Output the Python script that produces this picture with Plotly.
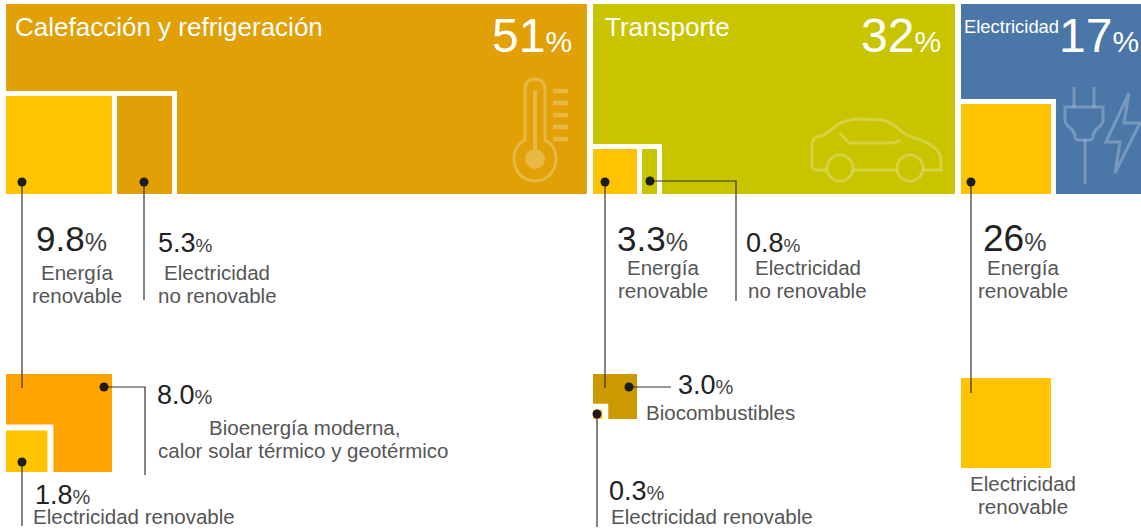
import plotly.graph_objects as go

# values
sector_names = ["Calefacción y refrigeración", "Transporte", "Electricidad"]
sector_values = [51, 32, 17]
split_values = [[9.8, 5.3], [3.3, 0.8], [26]]
renewable_values = [[8.0, 1.8], [3.0, 0.3], [26]]
label_renewable = ["Energía", "renovable"]
label_non_renewable = ["Electricidad", "no renovable"]
label_bio_heat = ["Bioenergía moderna,", "calor solar térmico y geotérmico"]
label_bio_fuel = "Biocombustibles"
label_green_power = "Electricidad renovable"

# layout, in page pixels
W, H = 1141, 529
FONT = "Liberation Sans"
BLOCK_TOP, BLOCK_BOTTOM = 4, 194
GAP = 5
sector_left = [6, 593, 961]
sector_px_per_pct = [11.39, 11.31, 11.35]
split_px_per_pct = [[10.82, 10.38], [13.33, 18.75], [3.46]]
split_height = [98, 45, 90]
lower_top = [374, 374, 378]

heat_c = "#e0a006"
transport_c = "#c9c400"
power_c = "#4a76a8"
yellow_c = "#ffc300"
orange_c = "#ffa300"
brown_c = "#cc9900"
sector_colors = [heat_c, transport_c, power_c]
lower_colors = [orange_c, brown_c, yellow_c]
text_c = "#222222"
pct_c = "#444444"
label_c = "#555555"
line_c = "#333333"
icon_c = "rgba(255,255,255,0.25)"
LABEL = 20.5

fig = go.Figure()


def add_block(left, top, width, height, color):
    fig.add_trace(
        go.Bar(
            x=[left + width / 2],
            y=[height],
            base=[top],
            width=[width],
            marker=dict(color=color, line_width=0),
        )
    )


def add_line(xs, ys, dot=True):
    fig.add_trace(
        go.Scatter(
            x=xs,
            y=ys,
            mode="lines",
            line=dict(color=line_c, width=1.2),
        )
    )
    if dot:
        fig.add_trace(
            go.Scatter(
                x=xs[:1],
                y=ys[:1],
                mode="markers",
                marker=dict(color="#1c1c1c", size=9),
            )
        )


def add_text(x, y, text, size, color=label_c, anchor="center"):
    # annotations carry about 2px of padding on each side
    if anchor == "left":
        x -= 2
    elif anchor == "right":
        x += 2
    fig.add_annotation(
        x=x,
        y=y,
        text=text,
        showarrow=False,
        xanchor=anchor,
        yanchor="middle",
        align=anchor,
        font=dict(family=FONT, size=size, color=color),
    )


def pct(value, pct_size, color=pct_c):
    return f'{value}<span style="font-size:{pct_size}px;color:{color}">%</span>'


# top row: sector blocks with the white framed share blocks inside
for i, value in enumerate(sector_values):
    add_block(
        sector_left[i],
        BLOCK_TOP,
        value * sector_px_per_pct[i],
        BLOCK_BOTTOM - BLOCK_TOP,
        sector_colors[i],
    )

    widths = [v * s for v, s in zip(split_values[i], split_px_per_pct[i])]
    top = BLOCK_BOTTOM - split_height[i]
    frame_left = sector_left[i] - (GAP if i == 2 else 0)
    frame_right = sector_left[i] + sum(widths) + GAP * len(widths)
    add_block(frame_left, top - GAP, frame_right - frame_left, split_height[i] + GAP, "white")

    left = sector_left[i]
    for j, width in enumerate(widths):
        add_block(left, top, width, split_height[i], yellow_c if j == 0 else sector_colors[i])
        left += width + GAP

    # lower row: the renewable share redrawn at the same size
    outer_w = widths[0]
    add_block(sector_left[i], lower_top[i], outer_w, split_height[i], lower_colors[i])
    if len(renewable_values[i]) > 1:
        share = renewable_values[i][1] / sum(renewable_values[i])
        side = share ** 0.5 * outer_w + 2
        low_bottom = lower_top[i] + split_height[i]
        add_block(sector_left[i], low_bottom - side, side, side, "white")
        add_block(sector_left[i], low_bottom - side + 6, side - 6, side - 6, yellow_c)

# connectors
add_line([22, 22], [182, 388])
add_line([144, 144], [182, 300])
add_line([605, 605], [182, 388])
add_line([650, 736, 736], [181, 181, 301])
add_line([971, 971], [182, 393])
add_line([104, 145, 145], [387, 387, 475])
add_line([22, 22], [462, 526])
add_line([629, 671], [387, 387])
add_line([597, 597], [414, 527])

# sector headings
add_text(15, 27, sector_names[0], 26, "white", "left")
add_text(605, 27, sector_names[1], 26, "white", "left")
add_text(964, 26, sector_names[2], 18.4, "white", "left")
add_text(572, 35, pct(sector_values[0], 30, "white"), 48, "white", "right")
add_text(941, 35, pct(sector_values[1], 30, "white"), 48, "white", "right")
add_text(1139, 35, pct(sector_values[2], 30, "white"), 48, "white", "right")

# top row labels
add_text(36, 238, pct(split_values[0][0], 25), 35, text_c, "left")
add_text(77, 272, label_renewable[0], LABEL)
add_text(77, 295, label_renewable[1], LABEL)
add_text(158, 243, pct(split_values[0][1], 19), 27, text_c, "left")
add_text(217, 272, label_non_renewable[0], LABEL)
add_text(217, 295, label_non_renewable[1], LABEL)
add_text(617, 238, pct(split_values[1][0], 25), 35, text_c, "left")
add_text(663, 267, label_renewable[0], LABEL)
add_text(663, 290, label_renewable[1], LABEL)
add_text(746, 243, pct(split_values[1][1], 19), 27, text_c, "left")
add_text(808, 267, label_non_renewable[0], LABEL)
add_text(807, 290, label_non_renewable[1], LABEL)
add_text(983, 238, pct(split_values[2][0], 25), 37, text_c, "left")
add_text(1023, 267, label_renewable[0], LABEL)
add_text(1023, 290, label_renewable[1], LABEL)

# lower row labels
add_text(157, 395, pct(f"{renewable_values[0][0]:.1f}", 20), 27, text_c, "left")
add_text(304, 427, label_bio_heat[0], LABEL)
add_text(158, 450, label_bio_heat[1], LABEL, anchor="left")
add_text(35, 495, pct(renewable_values[0][1], 20), 27, text_c, "left")
add_text(33, 516, label_green_power, LABEL, anchor="left")
add_text(678, 385, pct(f"{renewable_values[1][0]:.1f}", 20), 27, text_c, "left")
add_text(646, 412, label_bio_fuel, LABEL, anchor="left")
add_text(609, 491, pct(renewable_values[1][1], 20), 27, text_c, "left")
add_text(611, 516, label_green_power, LABEL, anchor="left")
add_text(1023, 483, "Electricidad", LABEL)
add_text(1023, 506, "renovable", LABEL)

# icons, plain outlines on top of the sector blocks
icon_paths = [
    # thermometer
    "M 525,140 L 525,90 Q 525,79 535,79 Q 545,79 545,90 L 545,140 "
    "C 553,144 556,151 556,159 C 556,171 547,181 535,181 "
    "C 523,181 514,171 514,159 C 514,151 517,144 525,140 Z",
    # car
    "M 826,170 L 816,170 Q 812,170 812,165 L 812,145 Q 812,137 820,136 L 824,135 "
    "L 840,123 Q 850,119 861,119 L 883,120 Q 892,122 906,135 "
    "Q 930,142 937,150 Q 941,155 941,160 L 941,170 L 923,170",
    "M 853,170 L 897,170",
    "M 840,133 L 849,143 L 890,143 Q 896,143 900,140",
    # plug
    "M 1074,87 L 1074,107 M 1094,87 L 1094,107",
    "M 1065,107 L 1103,107 L 1103,120 Q 1103,124 1098,128 Q 1093,132 1093,137 "
    "Q 1093,140 1088,140 L 1080,140 Q 1075,140 1075,137 Q 1075,132 1070,128 "
    "Q 1065,124 1065,120 Z",
    "M 1085,140 L 1085,184",
    # lightning
    "M 1129,93 L 1106,142 L 1120,142 L 1115,173 L 1140,123 L 1124,123 Z",
]
shapes = [
    dict(type="path", path=p, xref="x", yref="y", line=dict(color=icon_c, width=3))
    for p in icon_paths
]
# thermometer stem, bulb and scale
shapes.append(dict(type="circle", xref="x", yref="y", x0=525, x1=545, y0=149, y1=169,
                   fillcolor=icon_c, line_width=0))
shapes.append(dict(type="line", xref="x", yref="y", x0=535, x1=535, y0=90, y1=149,
                   line=dict(color=icon_c, width=4)))
for tick_y in [91, 103, 115, 127, 139]:
    shapes.append(dict(type="line", xref="x", yref="y", x0=553, x1=568, y0=tick_y, y1=tick_y,
                       line=dict(color=icon_c, width=4.5)))
# car wheels
for cx in [840, 910]:
    shapes.append(dict(type="circle", xref="x", yref="y", x0=cx - 13, x1=cx + 13, y0=155, y1=181,
                       line=dict(color=icon_c, width=3)))

fig.update_layout(
    width=W,
    height=H,
    margin=dict(l=0, r=0, t=0, b=0),
    paper_bgcolor="white",
    plot_bgcolor="white",
    barmode="overlay",
    showlegend=False,
    hovermode=False,
    shapes=shapes,
    xaxis=dict(range=[0, W], visible=False, fixedrange=True),
    yaxis=dict(range=[H, 0], visible=False, fixedrange=True),
)

fig.write_html(
    "out.html",
    config=dict(displayModeBar=False),
    post_script="document.body.style.margin='0';",
)
